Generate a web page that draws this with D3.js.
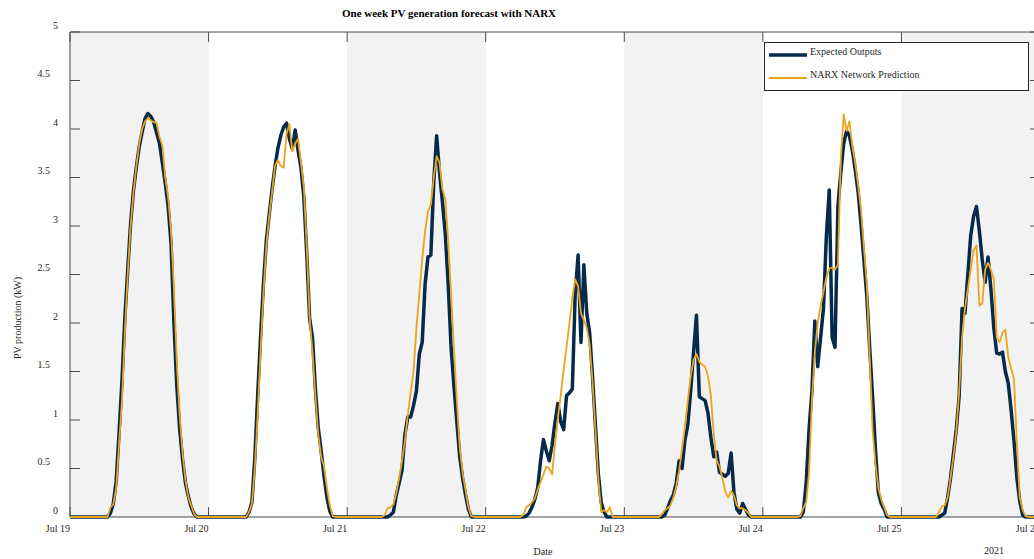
<!DOCTYPE html>
<html>
<head>
<meta charset="UTF-8">
<title>One week PV generation forecast with NARX</title>
<script src="https://d3js.org/d3.v7.min.js"></script>
<style>
  body { margin: 0; background: #fff; }
  svg { display: block; font-family: "Liberation Serif", "Times New Roman", serif; }
  .tick-label { font-size: 10px; fill: #262626; }
</style>
</head>
<body>
<div id="chart"></div>
<script>
// 30-minute samples starting Jul 19 2021 00:00, one row per day
const expected = [
  0,0,0,0,0,0,0,0,0,0,0,0,0, 0,0.04,0.14,0.37,0.87,1.4,2.05,2.55,3.03,3.37,3.61,3.82,3.97,4.11,4.16,4.13,4.07,3.96,3.85,3.65,3.44,3.2,2.82,2.0,1.35,0.9,0.59,0.35,0.21,0.1,0.03, 0,0,0,0,
  0,0,0,0,0,0,0,0,0,0,0,0,0, 0,0.05,0.15,0.6,1.25,1.85,2.4,2.85,3.12,3.38,3.61,3.8,3.93,4.02,4.06,3.9,3.8,3.99,3.78,3.6,3.3,2.72,2.05,1.85,1.32,0.92,0.68,0.42,0.2,0.06,0, 0,0,0,0,
  0,0,0,0,0,0,0,0,0,0,0,0,0, 0,0,0.02,0.05,0.22,0.35,0.48,0.85,1.03,1.03,1.15,1.3,1.68,1.8,2.4,2.68,2.7,3.45,3.93,3.55,3.25,2.92,2.4,1.75,1.35,0.98,0.62,0.4,0.23,0.08,0, 0,0,0,0,
  0,0,0,0,0,0,0,0,0,0,0,0,0, 0,0.01,0.04,0.1,0.18,0.3,0.58,0.8,0.68,0.58,0.74,0.98,1.17,0.98,0.9,1.25,1.28,1.32,2.3,2.7,1.8,2.6,2.1,1.9,1.45,0.95,0.45,0.15,0.05,0,0, 0,0,0,0,
  0,0,0,0,0,0,0,0,0,0,0,0,0, 0,0.02,0.09,0.17,0.23,0.35,0.58,0.5,0.79,0.95,1.3,1.7,2.08,1.24,1.22,1.2,1.07,0.82,0.62,0.67,0.46,0.44,0.42,0.45,0.66,0.25,0.08,0.04,0.14,0.08,0.02, 0,0,0,0,
  0,0,0,0,0,0,0,0,0,0,0,0,0, 0,0.05,0.35,0.9,1.3,2.02,1.55,1.85,2.15,2.9,3.37,1.85,1.75,3.2,3.55,3.85,3.98,3.93,3.78,3.58,3.35,3.02,2.65,2.28,1.75,1.25,0.7,0.25,0.14,0.08,0, 0,0,0,0,
  0,0,0,0,0,0,0,0,0,0,0,0,0, 0,0.02,0.04,0.2,0.4,0.65,0.9,1.25,2.15,2.1,2.5,2.9,3.1,3.2,2.95,2.65,2.42,2.68,2.35,1.95,1.69,1.68,1.7,1.5,1.38,1.1,0.78,0.4,0.16,0.02,0, 0,0,0,0,
  0
];
const predicted = [
  0,0,0,0,0,0,0,0,0,0,0,0,0, 0,0.1,0.13,0.3,0.75,1.2,1.9,2.5,3.0,3.35,3.62,3.85,4.0,4.08,4.11,4.09,4.07,4.06,3.92,3.83,3.5,3.3,2.95,2.35,1.6,1.05,0.65,0.38,0.2,0.12,0.03, 0,0,0,0,
  0,0,0,0,0,0,0,0,0,0,0,0,0, 0,0.05,0.14,0.5,1.05,1.7,2.3,2.8,3.1,3.35,3.62,3.68,3.62,3.6,3.95,4.05,3.77,3.85,3.9,3.65,3.4,2.8,2.05,1.7,1.25,0.85,0.62,0.52,0.3,0.12,0.01, 0,0,0,0,
  0,0,0,0,0,0,0,0,0,0,0,0,0, 0.02,0.09,0.1,0.13,0.24,0.4,0.58,0.78,1.05,1.28,1.5,1.95,2.3,2.65,2.95,3.15,3.22,3.5,3.72,3.65,3.38,3.28,2.85,2.3,1.72,1.2,0.72,0.45,0.28,0.1,0.01, 0,0,0,0,
  0,0,0,0,0,0,0,0,0,0,0,0,0, 0.02,0.1,0.12,0.15,0.19,0.28,0.36,0.44,0.52,0.5,0.44,0.75,1.02,1.26,1.52,1.75,2.0,2.25,2.45,2.38,2.1,2.03,1.95,1.78,1.4,0.9,0.4,0.05,0.07,0.05,0.1, 0,0,0,0,
  0,0,0,0,0,0,0,0,0,0,0,0,0, 0.03,0.07,0.09,0.12,0.2,0.32,0.48,0.7,0.93,1.2,1.45,1.62,1.68,1.6,1.57,1.55,1.45,1.25,0.85,0.58,0.52,0.4,0.26,0.2,0.27,0.22,0.12,0.09,0.09,0.07,0.04, 0,0,0,0,
  0,0,0,0,0,0,0,0,0,0,0,0,0, 0.01,0.09,0.15,0.45,1.2,1.7,2.0,2.18,2.32,2.47,2.56,2.57,2.55,2.6,3.7,4.15,3.98,4.08,3.82,3.65,3.42,3.17,2.78,2.4,1.65,0.9,0.55,0.3,0.18,0.1,0.02, 0,0,0,0,
  0,0,0,0,0,0,0,0,0,0,0,0,0, 0.05,0.11,0.12,0.2,0.4,0.62,0.88,1.3,1.85,2.15,2.35,2.55,2.75,2.8,2.18,2.2,2.55,2.62,2.55,2.45,1.85,1.8,1.9,1.93,1.65,1.53,1.42,0.75,0.2,0.07,0.01, 0,0,0,0,
  0
];
const dayLabels = ["Jul 19", "Jul 20", "Jul 21", "Jul 22", "Jul 23", "Jul 24", "Jul 25", "Jul 26"];
const yTicks = [0, 0.5, 1, 1.5, 2, 2.5, 3, 3.5, 4, 4.5, 5];
const seriesNames = ["Expected Outputs", "NARX Network Prediction"];

const width = 1034, height = 559;
const mLeft = 70, mTop = 32, mRight = 1040, mBottom = 517;

const start = new Date(2021, 6, 19);
const end = new Date(2021, 6, 26);
const times = expected.map((_, i) => d3.timeMinute.offset(start, 30 * i));
const days = dayLabels.map((_, i) => d3.timeDay.offset(start, i));

const x = d3.scaleTime().domain([start, end]).range([mLeft, mRight]);
const y = d3.scaleLinear().domain([0, 5]).range([mBottom, mTop]);

const svg = d3.select("#chart").append("svg")
  .attr("width", width)
  .attr("height", height);

// alternating day shading
svg.append("g").selectAll("rect")
  .data(days.slice(0, 7).filter((d, i) => i % 2 === 0))
  .enter().append("rect")
  .attr("x", d => x(d))
  .attr("y", mTop)
  .attr("width", d => x(d3.timeDay.offset(d, 1)) - x(d))
  .attr("height", mBottom - mTop)
  .attr("fill", "#f2f2f2");

const axisColor = "#4a4a4a";

// box
svg.append("path")
  .attr("d", `M${mLeft},${mBottom}V${mTop}H${mRight}V${mBottom}Z`)
  .attr("fill", "none")
  .attr("stroke", axisColor)
  .attr("stroke-width", 1);

// y ticks (left and right, pointing inward)
const yt = svg.append("g");
yTicks.forEach(v => {
  yt.append("line").attr("x1", mLeft).attr("x2", mLeft + 10)
    .attr("y1", y(v)).attr("y2", y(v)).attr("stroke", axisColor);
  yt.append("line").attr("x1", mRight - 10).attr("x2", mRight)
    .attr("y1", y(v)).attr("y2", y(v)).attr("stroke", axisColor);
  yt.append("text").attr("class", "tick-label")
    .attr("x", Number.isInteger(v) ? 58 : 50)
    .attr("y", y(v) - 7)
    .attr("dy", "0.35em")
    .attr("text-anchor", "end")
    .text(v);
});

// x ticks (top and bottom, pointing inward)
const xt = svg.append("g");
days.forEach((d, i) => {
  xt.append("line").attr("x1", x(d)).attr("x2", x(d))
    .attr("y1", mBottom).attr("y2", mBottom - 10).attr("stroke", axisColor);
  xt.append("line").attr("x1", x(d)).attr("x2", x(d))
    .attr("y1", mTop).attr("y2", mTop + 10).attr("stroke", axisColor);
  xt.append("text").attr("class", "tick-label")
    .attr("x", x(d))
    .attr("y", 528)
    .attr("dy", "0.35em")
    .attr("text-anchor", "end")
    .text(dayLabels[i]);
});

// series
const line = d3.line()
  .x((d, i) => x(times[i]))
  .y(d => y(d));

svg.append("path")
  .datum(expected)
  .attr("d", line)
  .attr("fill", "none")
  .attr("stroke", "#062a4c")
  .attr("stroke-width", 3.5)
  .attr("stroke-linejoin", "round");

svg.append("path")
  .datum(predicted)
  .attr("d", line)
  .attr("fill", "none")
  .attr("stroke", "#eba51c")
  .attr("stroke-width", 1.8)
  .attr("stroke-linejoin", "round");

// titles
svg.append("text")
  .attr("x", 449).attr("y", 13).attr("dy", "0.35em")
  .attr("text-anchor", "middle")
  .style("font-size", "11px").style("font-weight", "bold")
  .text("One week PV generation forecast with NARX");

svg.append("text").attr("class", "tick-label")
  .attr("x", 543).attr("y", 551).attr("dy", "0.35em")
  .attr("text-anchor", "middle")
  .text("Date");

svg.append("text").attr("class", "tick-label")
  .attr("x", 994).attr("y", 550).attr("dy", "0.35em")
  .attr("text-anchor", "middle")
  .text("2021");

svg.append("text").attr("class", "tick-label")
  .attr("transform", "translate(17,318) rotate(-90)")
  .attr("dy", "0.35em")
  .attr("text-anchor", "middle")
  .text("PV production (kW)");

// legend
const lg = svg.append("g");
lg.append("rect")
  .attr("x", 764.5).attr("y", 42.5)
  .attr("width", 264).attr("height", 48)
  .attr("fill", "#fff").attr("stroke", "#262626").attr("stroke-width", 1);
const legendColors = ["#062a4c", "#eba51c"];
const legendWidths = [3.5, 1.8];
seriesNames.forEach((name, i) => {
  const ly = 55 + i * 23;
  lg.append("line")
    .attr("x1", 769).attr("x2", 807)
    .attr("y1", ly).attr("y2", ly)
    .attr("stroke", legendColors[i]).attr("stroke-width", legendWidths[i]);
  lg.append("text").attr("class", "tick-label")
    .attr("x", 810).attr("y", ly - 4)
    .attr("dy", "0.35em")
    .text(name);
});
</script>
</body>
</html>
